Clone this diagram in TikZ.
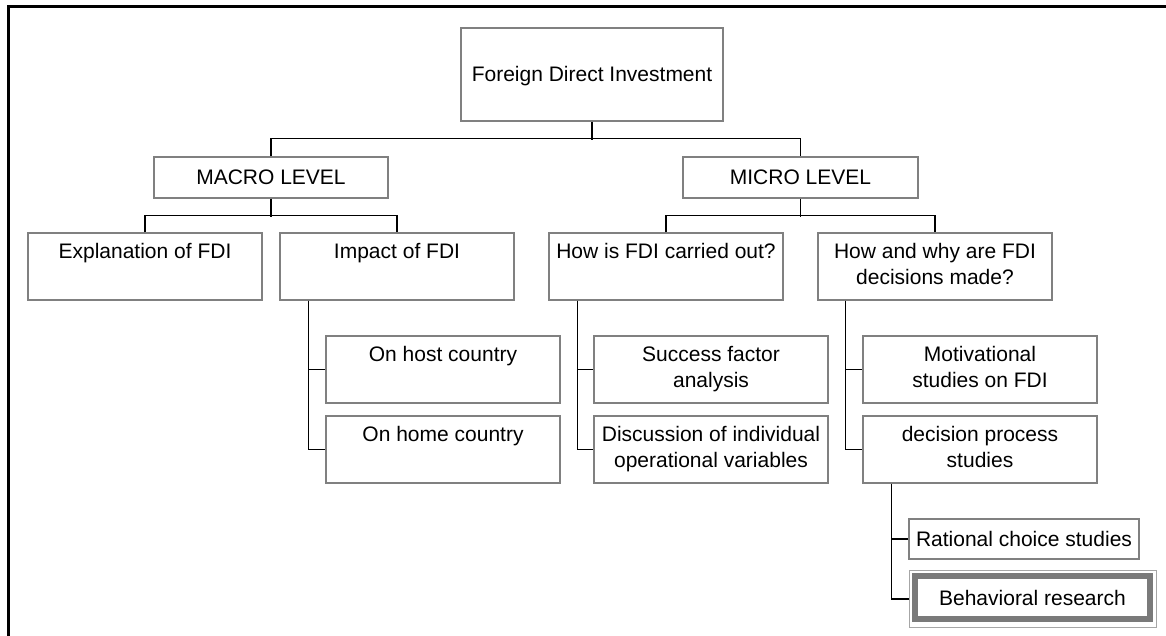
\documentclass[tikz,border=0pt]{standalone}
\usepackage{fontspec}
\setmainfont{Liberation Sans}
\newcommand\lnstrut{\rule[-5pt]{0pt}{18pt}}
\definecolor{boxline}{RGB}{128,128,128}
\definecolor{frameline}{RGB}{166,166,166}
\definecolor{accentline}{RGB}{122,122,122}
\tikzset{
  box/.style={draw=boxline, line width=1.2pt, fill=white, inner sep=0pt,
    align=center, font=\fontsize{21}{26}\selectfont},
  onebox/.style={box, text height=15pt, text depth=0pt},
  wide/.style={minimum width=234pt, minimum height=67pt},
  link/.style={draw=black, line width=1.3pt},
}
\begin{document}
\begin{tikzpicture}[x=1pt, y=-1pt]
\useasboundingbox (0,0) rectangle (1166,636);
% outer frame (left and top edges)
\draw[line width=2.8pt] (8.5,640) -- (8.5,6.3) -- (1170,6.3);

% root and level boxes
\node[onebox, minimum width=262pt, minimum height=93pt] (fdi) at (592,74.5) {Foreign Direct Investment};
\node[onebox, minimum width=234pt, minimum height=41pt] (macro) at (271,177.5) {MACRO LEVEL};
\node[onebox, minimum width=235pt, minimum height=41pt] (micro) at (800.5,177.5) {MICRO LEVEL};

% second level
\node[box, wide] (expl) at (145,266.5) {Explanation of FDI\lnstrut\\\lnstrut};
\node[box, wide] (impact) at (397,266.5) {Impact of FDI\lnstrut\\\lnstrut};
\node[box, wide] (how) at (666,266.5) {How is FDI carried out?\lnstrut\\\lnstrut};
\node[box, wide] (why) at (935,266.5) {How and why are FDI\lnstrut\\decisions made?\lnstrut};

% third level
\node[box, wide] (host) at (443,369.5) {On host country\lnstrut\\\lnstrut};
\node[box, wide] (home) at (443,449.5) {On home country\lnstrut\\\lnstrut};
\node[box, wide] (success) at (711,369.5) {Success factor\lnstrut\\analysis\lnstrut};
\node[box, wide] (disc) at (711,449.5) {Discussion of individual\lnstrut\\operational variables\lnstrut};
\node[box, wide] (motiv) at (980,369.5) {Motivational\lnstrut\\studies on FDI\lnstrut};
\node[box, wide] (dec) at (980,449.5) {decision process\lnstrut\\studies\lnstrut};

% fourth level
\node[onebox, minimum width=230pt, minimum height=40pt] (rat) at (1024,539) {Rational choice studies};
\node[draw=frameline, line width=0.9pt, fill=white, minimum width=247pt, minimum height=57pt, inner sep=0pt] (behframe) at (1032.5,599) {};
\node[onebox, draw=accentline, line width=6pt, minimum width=234.4pt, minimum height=42.7pt] (beh) at (1032.5,597.7) {Behavioral research};

% connectors
\draw[link] (fdi.south) -- ++(0,18);
\draw[link] (macro.north) -- ++(0,-18) -| (micro.north);

\draw[link] (macro.south) -- ++(0,18.5);
\draw[link] (expl.north) -- ++(0,-17) -| (impact.north);
\draw[link] (micro.south) -- ++(0,18.5);
\draw[link] (how.north) -- ++(0,-17) -| (why.north);

\draw[link] ([xshift=29pt]impact.south west) |- (host.west);
\draw[link] ([xshift=29pt]impact.south west) |- (home.west);
\draw[link] ([xshift=29pt]how.south west) |- (success.west);
\draw[link] ([xshift=29pt]how.south west) |- (disc.west);
\draw[link] ([xshift=28pt]why.south west) |- (motiv.west);
\draw[link] ([xshift=28pt]why.south west) |- (dec.west);

\draw[link] ([xshift=29pt]dec.south west) |- (rat.west);
\draw[link] ([xshift=29pt]dec.south west) |- (behframe.west);
\end{tikzpicture}
\end{document}
